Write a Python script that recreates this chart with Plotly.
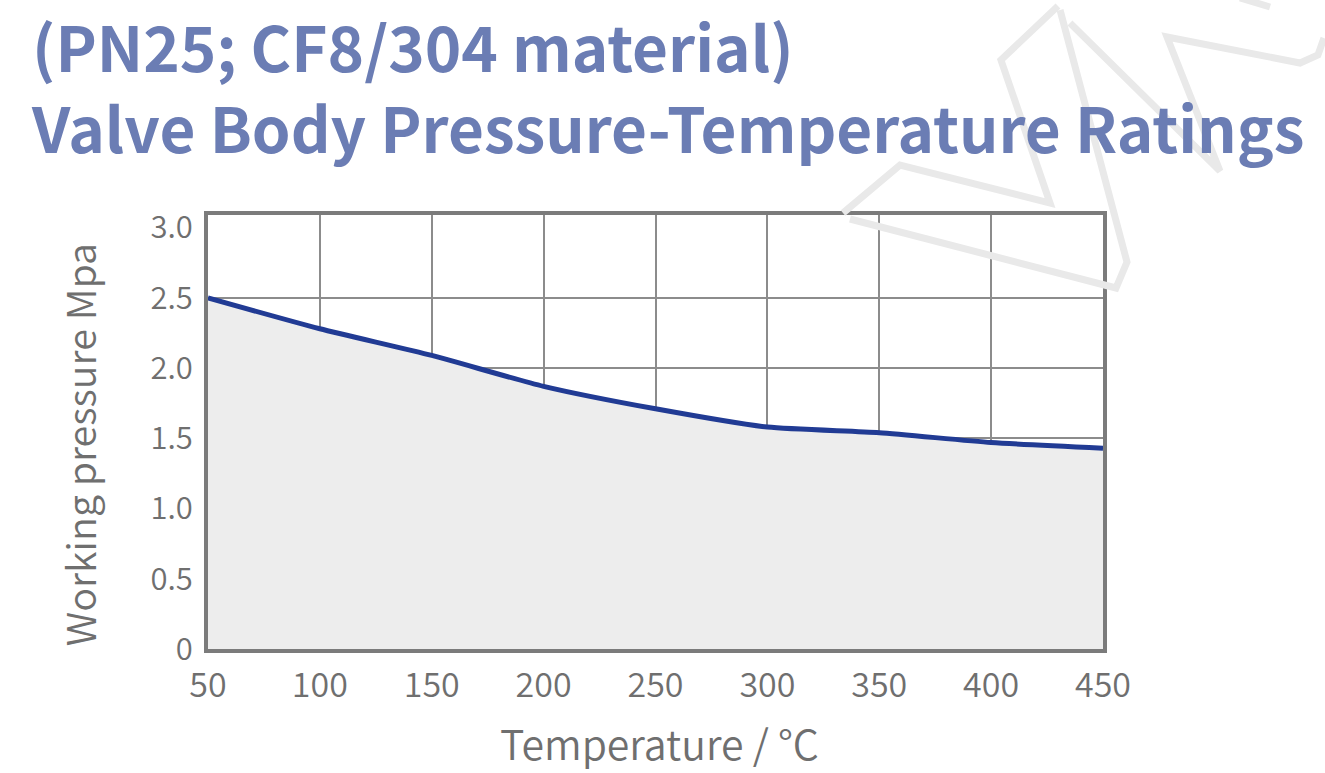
import plotly.graph_objects as go

temps = [50, 100, 150, 200, 250, 300, 350, 400, 450]
pressure = [2.50, 2.28, 2.09, 1.87, 1.71, 1.58, 1.54, 1.47, 1.43]

x_ticks = [50, 100, 150, 200, 250, 300, 350, 400, 450]
y_ticks = [0, 0.5, 1.0, 1.5, 2.0, 2.5, 3.0]
y_tick_text = ["0", "0.5", "1.0", "1.5", "2.0", "2.5", "3.0"]
y_grid = [0.5, 1.0, 1.5, 2.0, 2.5]
x_grid = [100, 150, 200, 250, 300, 350, 400]

title_line1 = "(PN25; CF8/304 material)"
title_line2 = "Valve Body Pressure-Temperature Ratings"
x_title = "Temperature / °C"
y_title = "Working pressure Mpa"

FONT = "Noto Sans CJK SC"
GRAY = "#6f6f6f"
TITLE_C = "#6b7db4"

# plot-area geometry in pixels (for converting the decorative watermark)
PL, PR, PT, PB = 208, 1103, 215, 649


def px(xp, yp):
    return (xp - PL) / (PR - PL), (PB - yp) / (PB - PT)


# faint background watermark outline (decoration, pixel coords)
watermark = [
    [(843, 213), (900, 165), (1050, 203), (1001, 60), (1058, 6)],
    [(850, 219), (1116, 288), (1127, 262), (1060, 10)],
    [(1070, 23), (1220, 171), (1167, 37), (1300, 63), (1318, 55), (1324, 38)],
    [(1270, 7), (1240, -2)],
]

fig = go.Figure()
fig.add_trace(go.Scatter(
    x=temps, y=pressure, mode="lines",
    line=dict(color="#213b94", width=5, shape="spline", smoothing=0.6),
    fill="tozeroy", fillcolor="#ededed", showlegend=False, hoverinfo="skip",
))

shapes = []
for poly in watermark:
    pts = [px(a, b) for a, b in poly]
    path = "M " + " L ".join("%.4f %.4f" % p for p in pts)
    shapes.append(dict(type="path", path=path, xref="paper", yref="paper",
                       line=dict(color="#e9e9e9", width=7), layer="above"))

fig.update_layout(
    width=1325, height=773,
    margin=dict(l=PL, r=1325 - PR, t=PT, b=773 - PB),
    paper_bgcolor="white", plot_bgcolor="white",
    font=dict(family=FONT, color=GRAY),
    shapes=shapes,
    xaxis=dict(
        range=[50, 450], tickvals=x_ticks, showgrid=False, zeroline=False,
        showline=True, linewidth=4, linecolor="#7b7b7b", mirror=True,
        tickfont=dict(size=34, color=GRAY, weight=350), ticks="", ticklabelstandoff=3,
        minor=dict(tickvals=x_grid, showgrid=True, gridcolor="#8c8c8c", gridwidth=2, ticks=""),
        layer="above traces",
    ),
    yaxis=dict(
        range=[0, 3.09], tickvals=y_ticks, ticktext=y_tick_text, showgrid=False, zeroline=False,
        showline=True, linewidth=4, linecolor="#7b7b7b", mirror=True,
        tickfont=dict(size=31, color=GRAY, weight=350), ticks="", ticklabelstandoff=5,
        minor=dict(tickvals=y_grid, showgrid=True, gridcolor="#8c8c8c", gridwidth=2, ticks=""),
        layer="above traces",
    ),
    annotations=[
        dict(text="<b>%s</b><br><b>%s</b>" % (title_line1, title_line2),
             xref="paper", yref="paper", x=-0.2, y=(649 - 85) / 434,
             xanchor="left", yanchor="middle", align="left", showarrow=False,
             font=dict(family=FONT, size=62, color=TITLE_C)),
        dict(text=y_title, xref="paper", yref="paper", x=-0.145, y=0.47, textangle=-90,
             xanchor="center", yanchor="middle", showarrow=False,
             font=dict(family=FONT, size=39.5, color=GRAY, weight=350)),
        dict(text=x_title, xref="paper", yref="paper", x=0.504, y=-0.214,
             xanchor="center", yanchor="middle", showarrow=False,
             font=dict(family=FONT, size=41, color=GRAY, weight=350)),
    ],
)

fig.write_html("out.html")
